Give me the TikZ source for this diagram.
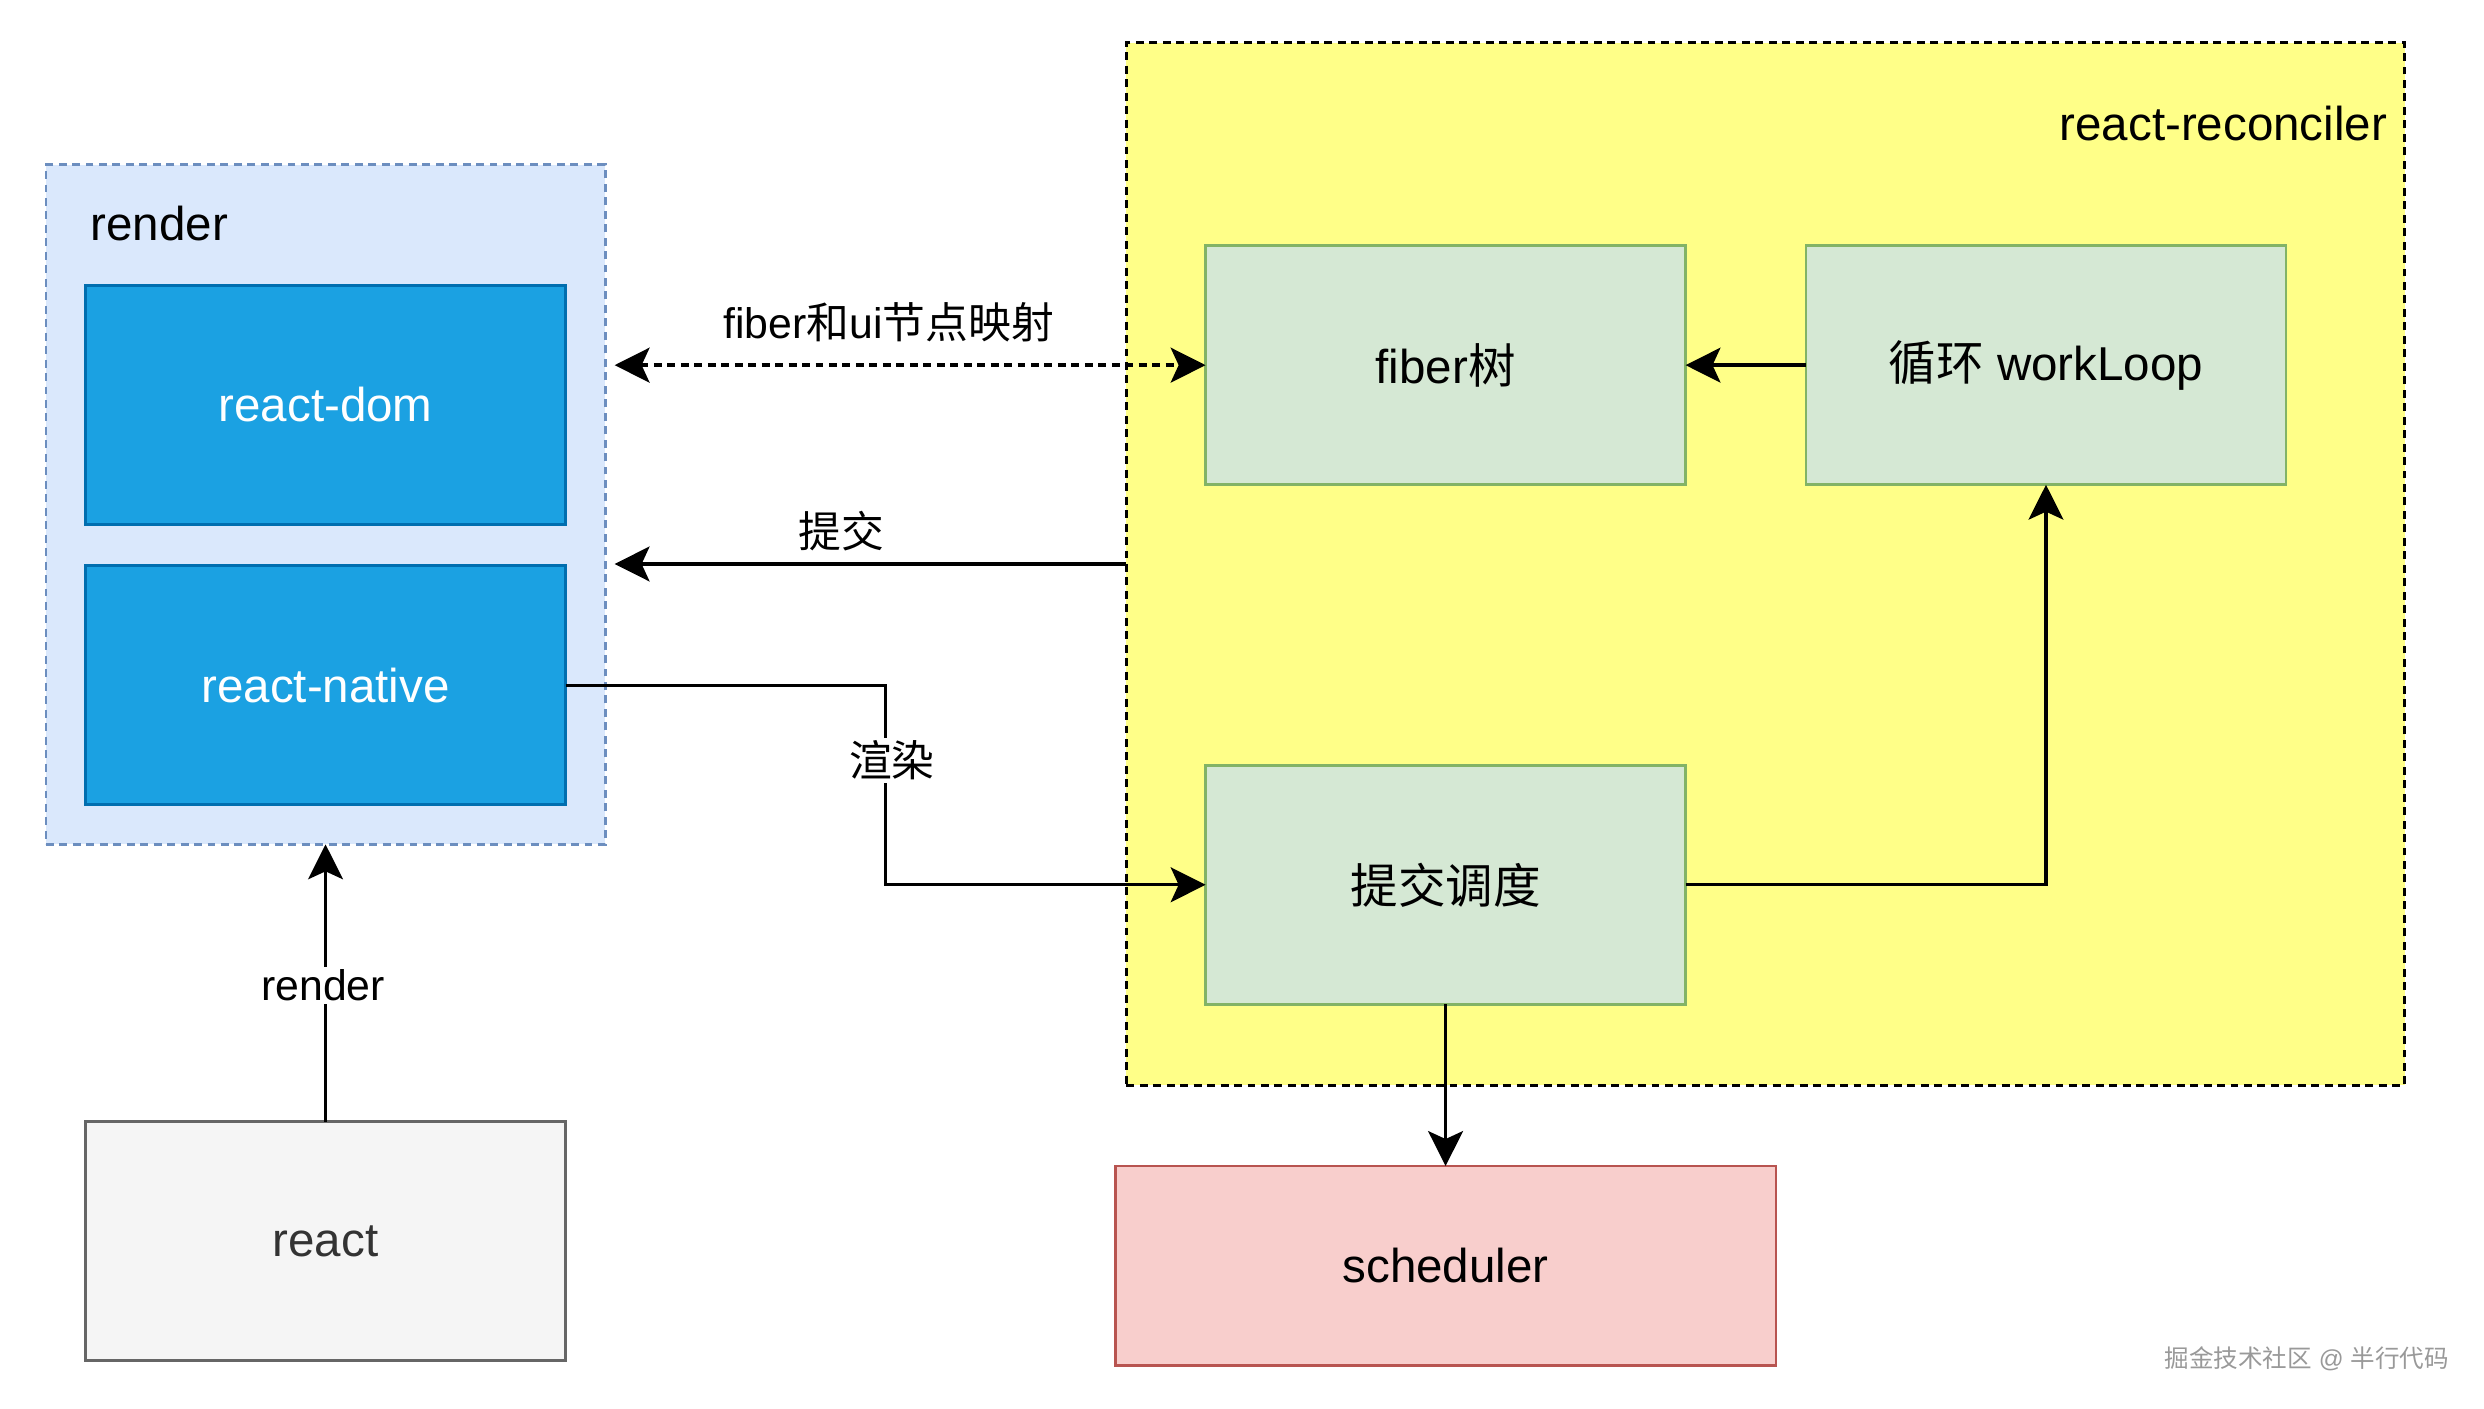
\documentclass[tikz,border=0pt]{standalone}
\usepackage{fontspec}
\setmainfont{Liberation Sans}
\newfontfamily\cjk{Noto Sans CJK SC}
\usetikzlibrary{arrows.meta}
\definecolor{renderfill}{HTML}{DAE8FC}
\definecolor{renderline}{HTML}{6C8EBF}
\definecolor{bluefill}{HTML}{1BA1E2}
\definecolor{blueline}{HTML}{006EAF}
\definecolor{greyfill}{HTML}{F5F5F5}
\definecolor{greyline}{HTML}{666666}
\definecolor{greytext}{HTML}{333333}
\definecolor{yellowfill}{HTML}{FFFF88}
\definecolor{greenfill}{HTML}{D5E8D4}
\definecolor{greenline}{HTML}{82B366}
\definecolor{redfill}{HTML}{F8CECC}
\definecolor{redline}{HTML}{B85450}
\definecolor{wmark}{HTML}{999999}
\tikzset{
  nodefont/.style={font=\fontsize{30}{36}\selectfont},
  labelfont/.style={font=\fontsize{27}{32}\selectfont},
  boxbase/.style={rectangle, line width=1.7pt, inner sep=0pt, outer sep=0pt, nodefont},
  bluebox/.style={boxbase, fill=bluefill, draw=blueline, text=white, minimum width=303pt, minimum height=151pt},
  greenbox/.style={boxbase, fill=greenfill, draw=greenline, minimum width=303pt, minimum height=151pt},
  greybox/.style={boxbase, fill=greyfill, draw=greyline, text=greytext, minimum width=303pt, minimum height=151pt},
  redbox/.style={boxbase, fill=redfill, draw=redline, minimum width=417pt, minimum height=126pt},
  groupbox/.style={rectangle, line width=1.8pt, dash pattern=on 5pt off 3.5pt, inner sep=0pt, outer sep=0pt},
  tip/.style={Stealth[length=22pt, width=22pt, inset=5pt]},
  conn/.style={line width=2.1pt, -{Stealth[length=22pt, width=22pt, inset=5pt]}},
  edgelabel/.style={labelfont, inner sep=2pt},
}
\begin{document}
\begin{tikzpicture}[x=1pt, y=-1pt]
\useasboundingbox (0,0) rectangle (1568,889);
% groups
\node[groupbox, fill=renderfill, draw=renderline, minimum width=353pt, minimum height=429pt] (render) at (205.5,318.5) {};
\node[groupbox, fill=yellowfill, draw=black, minimum width=807pt, minimum height=658pt] (recon) at (1114.5,356) {};
\node[nodefont, anchor=west, inner sep=0pt] (renderlbl) at (57,141) {render};
\node[nodefont, anchor=east, inner sep=0pt] (reconlbl) at (1507,78) {react-reconciler};
% nodes
\node[bluebox] (dom) at (205.5,255.5) {react-dom};
\node[bluebox] (native) at (205.5,432.5) {react-native};
\node[greybox] (react) at (205.5,783.5) {react};
\node[greenbox] (fiber) at (912.5,230.5) {fiber{\cjk 树}};
\node[greenbox] (loop) at (1291.5,230.5) {{\cjk 循环} workLoop};
\node[greenbox] (commit) at (912.5,558.5) {{\cjk 提交调度}};
\node[redbox] (sched) at (912.5,799) {scheduler};
\coordinate (rg) at (388,0);
\coordinate (bend) at (559,0);
% connectors
\draw[line width=2.3pt, dash pattern=on 5pt off 3.5pt, {Stealth[length=22pt, width=22pt, inset=5pt]}-{Stealth[length=22pt, width=22pt, inset=5pt]}] (fiber.west -| rg) -- (fiber.west);
\node[edgelabel, anchor=south] (maplbl) at (561,218) {fiber{\cjk 和}ui{\cjk 节点映射}};
\draw[conn] (recon.west) -- (recon.west -| rg);
\node[edgelabel, anchor=south] (commitlbl) at (531,350) {{\cjk 提交}};
\draw[conn] (native.east) -- (native.east -| bend) |- (commit.west);
\node[edgelabel, fill=white] (drawlbl) at (563,480) {{\cjk 渲染}};
\draw[conn] (loop.west) -- (fiber.east);
\draw[conn] (commit.east) -| (loop.south);
\draw[conn] (commit.south) -- (sched.north);
\draw[conn] (react.north) -- (render.south);
\node[edgelabel, fill=white] (renderedge) at (204,622) {render};
% watermark
\node[font=\fontsize{15.5}{18}\selectfont, text=wmark, anchor=east, inner sep=0pt] (wm) at (1546,858) {{\cjk 掘金技术社区} @ {\cjk 半行代码}};
\end{tikzpicture}
\end{document}
